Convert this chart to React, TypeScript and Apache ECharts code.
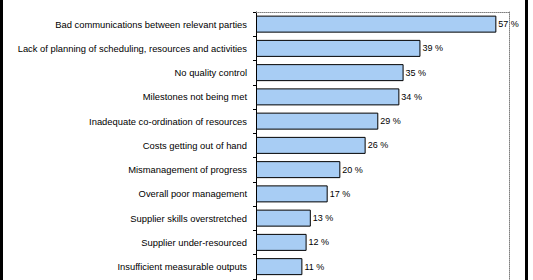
import React, { useEffect, useRef } from "react";
import * as echarts from "echarts";

const categories = [
  "Bad communications between relevant parties",
  "Lack of planning of scheduling, resources and activities",
  "No quality control",
  "Milestones not being met",
  "Inadequate co-ordination of resources",
  "Costs getting out of hand",
  "Mismanagement of progress",
  "Overall poor management",
  "Supplier skills overstretched",
  "Supplier under-resourced",
  "Insufficient measurable outputs",
  "",
];
const values: (number | null)[] = [57, 39, 35, 34, 29, 26, 20, 17, 13, 12, 11, null];

export default function App() {
  const ref = useRef<HTMLDivElement>(null);
  useEffect(() => {
    if (!ref.current) return;
    const chart = echarts.init(ref.current, undefined, { renderer: "svg" });
    const font = "Liberation Sans, Arial, sans-serif";
    chart.setOption({
      animation: false,
      backgroundColor: "#ffffff",
      grid: { left: 256, top: 12, width: 253, height: 291, containLabel: false },
      xAxis: {
        type: "value",
        position: "top",
        min: 0,
        max: 60,
        axisLine: { show: true, lineStyle: { color: "#808080", type: "dotted", width: 1 } },
        axisTick: { show: false },
        axisLabel: { show: false },
        splitLine: { show: false },
      },
      yAxis: [
        {
          type: "category",
          data: categories,
          inverse: true,
          axisLine: { show: true, lineStyle: { color: "#000", width: 1 } },
          axisTick: { show: true, length: 3, lineStyle: { color: "#000" } },
          axisLabel: { color: "#000", fontSize: 9.4, fontFamily: font, margin: 9 },
        },
        {
          type: "category",
          data: categories,
          inverse: true,
          position: "right",
          axisLine: { show: true, lineStyle: { color: "#808080", type: "dotted", width: 1 } },
          axisTick: { show: false },
          axisLabel: { show: false },
        },
      ],
      series: [
        {
          type: "bar",
          data: values,
          barWidth: 17,
          itemStyle: { color: "#a8cdf4", borderColor: "#000", borderWidth: 1 },
          label: {
            show: true,
            position: "right",
            distance: 2,
            formatter: "{c} %",
            color: "#000",
            fontSize: 9,
            fontFamily: font,
          },
        },
      ],
      graphic: [
        { type: "rect", left: 0, top: 0, shape: { width: 3, height: 320 }, style: { fill: "#000" } },
        { type: "rect", left: 525, top: 0, shape: { width: 3, height: 320 }, style: { fill: "#000" } },
      ],
    });
    return () => chart.dispose();
  }, []);
  return (
    <div
      style={{
        position: "fixed",
        left: 0,
        top: 0,
        width: 533,
        height: 280,
        overflow: "hidden",
        background: "#fff",
      }}
    >
      <div ref={ref} style={{ width: 533, height: 320 }} />
    </div>
  );
}
